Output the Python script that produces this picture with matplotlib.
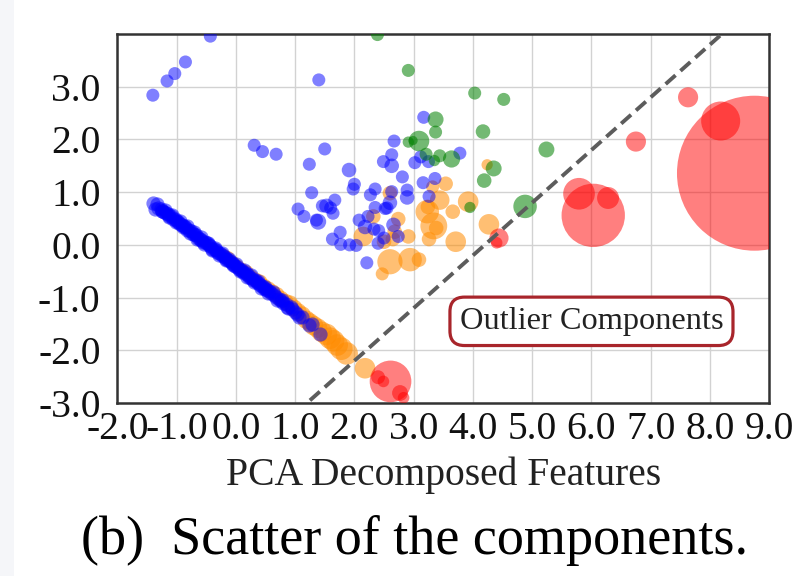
import matplotlib
matplotlib.use("Agg")
import matplotlib.pyplot as plt
from matplotlib.patches import Rectangle
from matplotlib.ticker import FormatStrFormatter

plt.rcParams['font.family'] = ['Liberation Serif', 'DejaVu Serif']
plt.rcParams['axes.unicode_minus'] = False

# normal components lying on the main diagonal band
band_blue_x = [-1.40, -1.36, -1.31, -1.27, -1.24, -1.21, -1.18, -1.15, -1.12, -1.09,
               -1.06, -1.03, -1.00, -0.97, -0.94, -0.91, -0.88, -0.85, -0.82, -0.79,
               -0.76, -0.73, -0.70, -0.67, -0.64, -0.61, -0.58, -0.55, -0.52, -0.49,
               -0.46, -0.43, -0.40, -0.37, -0.34, -0.31, -0.28, -0.25, -0.22, -0.19,
               -0.16, -0.13, -0.10, -0.07, -0.04, -0.01, 0.02, 0.05, 0.08, 0.11,
               0.14, 0.17, 0.20, 0.23, 0.26, 0.29, 0.32, 0.35, 0.38, 0.41,
               0.44, 0.47, 0.50, 0.53, 0.56, 0.60, 0.64, 0.68, 0.72, 0.77,
               0.80, 0.85, 0.88, 0.95, 1.00, 1.07, 1.12, 1.24, 1.28, 1.42,
               -1.33, -1.25, -1.19, -1.13, -1.07, -1.01, -0.95, -0.89, -0.83, -0.77,
               -0.71, -0.65, -0.59, -0.53, -0.47, -0.41, -0.35, -0.29, -0.23, -0.17,
               -0.11, -0.05, 0.01, 0.07, 0.13, 0.19, 0.25, 0.31, 0.37, 0.43,
               0.49, 0.55, 0.62, 0.70, 0.78, 0.86, 0.93, 1.03]
band_blue_y = [0.80, 0.68, 0.70, 0.68, 0.65, 0.63, 0.60, 0.58, 0.55, 0.54,
               0.50, 0.49, 0.45, 0.44, 0.39, 0.38, 0.35, 0.34, 0.29, 0.28,
               0.26, 0.21, 0.20, 0.19, 0.14, 0.12, 0.10, 0.06, 0.05, 0.03,
               -0.01, -0.03, -0.07, -0.08, -0.10, -0.14, -0.16, -0.18, -0.22, -0.23,
               -0.27, -0.29, -0.31, -0.35, -0.36, -0.40, -0.41, -0.45, -0.47, -0.49,
               -0.53, -0.54, -0.58, -0.60, -0.62, -0.66, -0.67, -0.71, -0.72, -0.76,
               -0.78, -0.81, -0.83, -0.86, -0.88, -0.92, -0.95, -0.99, -1.02, -1.07,
               -1.10, -1.13, -1.20, -1.21, -1.27, -1.37, -1.37, -1.52, -1.51, -1.69,
               0.77, 0.64, 0.66, 0.53, 0.56, 0.43, 0.46, 0.33, 0.35, 0.22,
               0.25, 0.12, 0.15, 0.02, 0.04, -0.09, -0.06, -0.19, -0.16, -0.29,
               -0.27, -0.39, -0.37, -0.50, -0.48, -0.60, -0.58, -0.70, -0.68, -0.81,
               -0.79, -0.91, -0.90, -1.04, -1.04, -1.18, -1.17, -1.32]

band_orange_x = [-0.20, -0.13, -0.05, 0.03, 0.10, 0.18, 0.25, 0.33, 0.41, 0.48,
                 0.55, 0.62, 0.69, 0.76, 0.84, 0.91, 0.98, 1.05, 1.12, 1.19,
                 1.25, 1.31, 1.38, 1.45, 1.53, 1.59, 1.65, 1.71, 1.78, 1.87]
band_orange_y = [-0.20, -0.24, -0.33, -0.40, -0.46, -0.52, -0.60, -0.66, -0.70, -0.78,
                 -0.83, -0.90, -0.95, -1.02, -1.08, -1.12, -1.20, -1.27, -1.33, -1.42,
                 -1.47, -1.53, -1.58, -1.65, -1.70, -1.77, -1.82, -1.90, -1.97, -2.06]
band_orange_mag = [4, 4, 4, 4, 4, 5, 5, 5, 5, 5,
                   5, 6, 6, 6, 6, 7, 7, 7, 7, 8,
                   8, 9, 9, 10, 11, 11, 11, 11, 12, 12]

# scattered components
blue_x = [-0.43, -0.85, -1.03, -1.16, -1.40, 1.40, 0.31, 0.45, 0.68, 1.50,
          1.24, 1.91, 2.00, 1.98, 1.28, 1.05, 1.15, 1.39, 1.36, 1.46,
          1.53, 1.60, 1.67, 1.64, 1.76, 1.63, 1.77, 1.92, 2.03, 2.21,
          2.08, 2.18, 2.33, 2.41, 2.40, 2.50, 2.27, 2.35, 2.55, 2.60,
          2.63, 2.66, 2.74, 2.81, 2.49, 2.63, 2.63, 2.67, 2.89, 2.89,
          3.02, 3.16, 3.17, 3.26, 3.12, 3.25, 3.36, 3.78, 2.35, 2.23, 2.52]
blue_y = [3.96, 3.47, 3.25, 3.11, 2.84, 3.13, 1.89, 1.77, 1.72, 1.82,
          1.53, 1.42, 1.15, 1.06, 0.99, 0.68, 0.54, 0.44, 0.47, 0.74,
          0.74, 0.70, 0.85, 0.60, 0.24, 0.11, 0.01, 0.00, -0.01, -0.34,
          0.47, 0.34, 0.30, 0.27, 0.03, 0.13, 0.95, 1.06, 0.70, 0.80,
          1.01, 0.38, 0.16, 1.29, 1.58, 1.71, 1.50, 1.97, 1.04, 0.90,
          1.56, 1.18, 2.42, 0.92, 1.67, 1.58, 1.26, 1.74, 0.71, 0.54, 0.69]
blue_mag = [4, 4, 4, 4, 4, 4, 4, 4, 4, 4,
            4, 5, 4, 4, 4, 4, 4, 6, 4, 4,
            5, 4, 4, 4, 4, 4, 4, 4, 4, 4,
            4, 5, 4, 4, 4, 4, 4, 4, 4, 5,
            4, 5, 4, 4, 4, 4, 5, 4, 4, 5,
            4, 4, 4, 4, 4, 4, 4, 4, 4, 4, 4]

orange_x = [3.32, 3.54, 3.23, 3.24, 3.44, 3.92, 3.66, 3.34, 3.38, 3.26,
            3.71, 4.27, 2.91, 2.74, 2.68, 2.65, 2.32, 2.15, 2.60, 2.94,
            3.09, 2.47, 4.24, 2.60, 2.50, 2.18]
orange_y = [1.10, 1.16, 0.63, 0.72, 0.85, 0.82, 0.63, 0.36, 0.32, 0.11,
            0.06, 0.39, 0.16, 0.49, 0.25, 0.11, 0.54, 0.16, -0.32, -0.28,
            -0.28, -0.55, 1.52, 0.98, 0.06, -2.34]
orange_mag = [4, 5, 13, 5, 9, 10, 5, 17, 5, 5,
              10, 10, 5, 5, 5, 5, 5, 9, 15, 13,
              5, 4, 3, 5, 5, 10]

green_x = [2.39, 2.91, 4.03, 4.52, 3.37, 3.37, 3.09, 2.91, 2.99, 4.17,
           3.21, 3.44, 3.35, 3.64, 5.24, 4.35, 4.19, 4.88, 3.95]
green_y = [3.99, 3.31, 2.88, 2.76, 2.38, 2.14, 1.97, 1.95, 1.98, 2.15,
           1.72, 1.69, 1.60, 1.63, 1.81, 1.45, 1.22, 0.73, 0.71]
green_mag = [4, 4, 4, 4, 6, 4, 10, 3, 2, 5,
             4, 4, 3, 7, 6, 6, 5, 13, 3]

# outliers, bubble size = anomaly magnitude
red_x = [8.75, 8.18, 7.63, 6.75, 6.03, 5.79, 6.28, 4.44, 4.40,
         2.61, 2.40, 2.49, 2.77, 2.83]
red_y = [1.36, 2.35, 2.80, 1.96, 0.56, 0.97, 0.89, 0.13, 0.04,
         -2.59, -2.51, -2.59, -2.81, -2.90]
red_mag = [1245, 79, 21, 21, 208, 52, 25, 19, 7,
           90, 10, 7, 13, 7]

# separating boundary y = x + boundary_offset
boundary_x = [-2.0, 9.0]
boundary_offset = -4.2

x_ticks = [-2.0, -1.0, 0.0, 1.0, 2.0, 3.0, 4.0, 5.0, 6.0, 7.0, 8.0, 9.0]
y_ticks = [-3.0, -2.0, -1.0, 0.0, 1.0, 2.0, 3.0]

fig = plt.figure(figsize=(8, 5.76), dpi=100)
fig.patches.append(Rectangle((0, 0), 0.018, 1, transform=fig.transFigure,
                             facecolor='#f5f6f9', edgecolor='none', zorder=0))
ax = fig.add_axes([0.1466, 0.3003, 0.815, 0.6406])

k = 22.0
ax.scatter(band_orange_x, band_orange_y, s=[m * k for m in band_orange_mag],
           c='darkorange', alpha=0.55, linewidths=0, zorder=2)
ax.scatter(orange_x, orange_y, s=[m * k for m in orange_mag],
           c='darkorange', alpha=0.55, linewidths=0, zorder=2)
ax.scatter(band_blue_x, band_blue_y, s=105, c='blue', alpha=0.5, linewidths=0, zorder=3)
ax.scatter(blue_x, blue_y, s=[m * k for m in blue_mag],
           c='blue', alpha=0.5, linewidths=0, zorder=3)
ax.scatter(green_x, green_y, s=[m * k for m in green_mag],
           c='green', alpha=0.55, linewidths=0, zorder=4)
ax.scatter(red_x, red_y, s=[m * 10.0 for m in red_mag],
           c='red', alpha=0.5, linewidths=0, zorder=5)

ax.plot(boundary_x, [x + boundary_offset for x in boundary_x], ls='--',
        color='#5c5c5c', lw=2.8, dashes=(3.4, 1.7), zorder=6)

ax.text(6.0, -1.45, 'Outlier Components', fontsize=23.3, color='#222222',
        ha='center', va='center', zorder=7,
        bbox=dict(boxstyle='round,pad=0.3,rounding_size=0.45', facecolor='white',
                  edgecolor='#a8252b', lw=2.3))

ax.set_xlim(-2, 9)
ax.set_ylim(-3, 4)
ax.set_xticks(x_ticks)
ax.set_yticks(y_ticks)
ax.xaxis.set_major_formatter(FormatStrFormatter('%.1f'))
ax.yaxis.set_major_formatter(FormatStrFormatter('%.1f'))
ax.tick_params(length=0, labelsize=28.5, labelcolor='#111111')
ax.tick_params(axis='y', pad=12)
ax.tick_params(axis='x', pad=6)
ax.grid(True, color='#d2d2d2', lw=1.0, zorder=0)
ax.set_axisbelow(True)
for sp in ax.spines.values():
    sp.set_color('#333333')
    sp.set_linewidth(1.8)

ax.set_xlabel('PCA Decomposed Features', fontsize=28.5, color='#222222', labelpad=6)

fig.text(0.518, 0.062, '(b)  Scatter of the components.', fontsize=39,
         ha='center', va='center', color='black')

fig.savefig('out.png', dpi=100)
